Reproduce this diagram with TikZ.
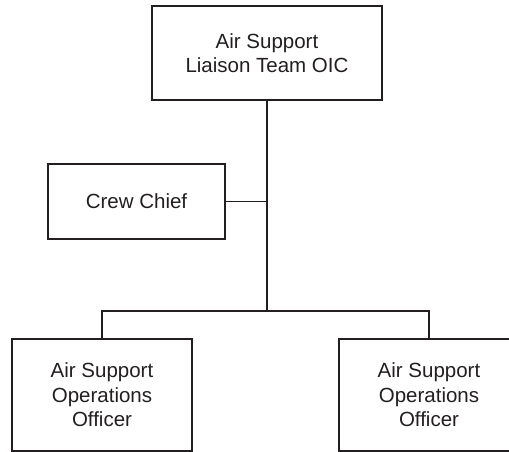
\documentclass[tikz,border=0pt]{standalone}
\usepackage{fontspec}
\setmainfont{Liberation Sans}
\definecolor{ink}{HTML}{231F20}
\begin{document}
\begin{tikzpicture}[x=1pt,y=-1pt,
  box/.style={draw=ink,line width=1.8pt,fill=white,inner sep=0pt,align=center,
    text=ink,font=\fontsize{20.5}{24.5}\selectfont},
  conn/.style={draw=ink,line width=1.8pt}]
\useasboundingbox (0,0) rectangle (509,452);
\clip (0,0) rectangle (509,452);
\node[box,minimum width=230pt,minimum height=94pt] (oic) at (267,53) {Air Support\\Liaison Team OIC};
\node[box,minimum width=177pt,minimum height=75pt] (crew) at (136.5,201.5) {Crew Chief};
\node[box,minimum width=180pt,minimum height=112pt] (aso1) at (102,395) {Air Support\\Operations\\Officer};
\node[box,minimum width=180pt,minimum height=112pt] (aso2) at (429,395) {Air Support\\Operations\\Officer};
\coordinate (bar) at (267,311);
\draw[conn] (oic.south) -- (bar);
\draw[conn] (crew.east) -- (crew.east -| bar);
\draw[conn] (aso1.north) |- (bar) -| (aso2.north);
\end{tikzpicture}
\end{document}
